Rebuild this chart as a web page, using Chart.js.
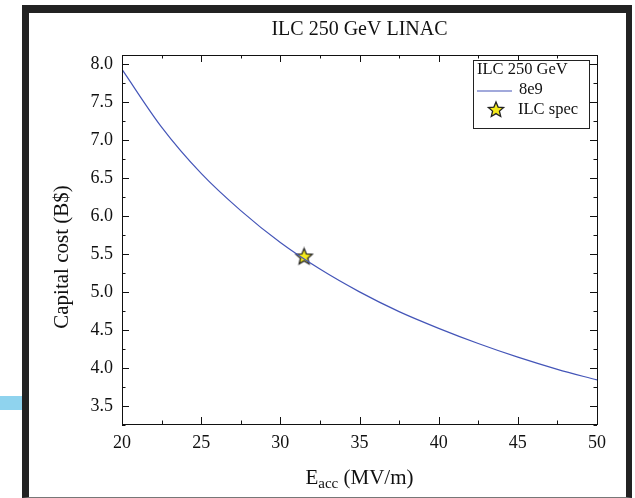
<!DOCTYPE html>
<html>
<head>
<meta charset="utf-8">
<script src="https://cdn.jsdelivr.net/npm/chart.js@4"></script>
<style>
  html, body { margin: 0; padding: 0; background: #fff; }
  body { width: 635px; height: 498px; position: relative; overflow: hidden; }
  #frame {
    position: absolute; left: 22px; top: 5px; width: 597px; height: 484px;
    border-left: 7px solid #222; border-top: 8px solid #222;
    border-right: 6px solid #222; border-bottom: 1px solid #777;
    background: #fff;
  }
  #blueBar { position: absolute; left: 0; top: 396px; width: 22px; height: 14px; background: #8fd3ee; }
  #wrap { position: absolute; left: 0; top: 0; width: 597px; height: 484px; }
</style>
</head>
<body>
<div id="blueBar"></div>
<div id="frame">
  <div id="wrap"><canvas id="costChart" width="597" height="484"></canvas></div>
</div>
<script>
// accelerating gradient (MV/m) and capital cost (B$)
const energy = [20, 22.5, 25, 27.5, 30, 32.5, 35, 37.5, 40, 42.5, 45, 47.5, 50];
const cost = [7.93, 7.17, 6.56, 6.07, 5.65, 5.30, 5.00, 4.74, 4.52, 4.32, 4.14, 3.98, 3.84];
const specEnergy = [31.5];
const specCost = [5.46];
const xTicks = [20, 25, 30, 35, 40, 45, 50];
const yTicks = [3.5, 4.0, 4.5, 5.0, 5.5, 6.0, 6.5, 7.0, 7.5, 8.0];

const serif = "'Liberation Serif', 'Times New Roman', serif";
const lineColor = '#4455b8';

function makeStar(r) {
    const c = document.createElement('canvas');
    const s = Math.ceil(r * 2 + 4);
    c.width = s; c.height = s;
    const g = c.getContext('2d');
    g.beginPath();
    for (let i = 0; i < 10; i++) {
        const rad = i % 2 === 0 ? r : r * 0.45;
        const a = -Math.PI / 2 + i * Math.PI / 5;
        const px = s / 2 + rad * Math.cos(a), py = s / 2 + rad * Math.sin(a);
        if (i === 0) g.moveTo(px, py); else g.lineTo(px, py);
    }
    g.closePath();
    g.fillStyle = '#f4ea1c';
    g.fill();
    g.lineWidth = 1.3;
    g.strokeStyle = '#222';
    g.stroke();
    return c;
}
const starImg = makeStar(8.5);
const legendStar = makeStar(8);

const decorations = {
    id: 'decorations',
    afterDraw(chart) {
        const ctx = chart.ctx;
        const a = chart.chartArea;
        const x = chart.scales.x, y = chart.scales.y;
        ctx.save();
        ctx.strokeStyle = '#111';
        ctx.lineWidth = 1;
        ctx.strokeRect(a.left + 0.5, a.top + 0.5, a.right - a.left, a.bottom - a.top);

        // inward ticks on all four sides
        ctx.beginPath();
        const xs = [];
        xTicks.forEach((v, i) => {
            xs.push([v, 7]);
            if (i < xTicks.length - 1) xs.push([(v + xTicks[i + 1]) / 2, 3.5]);
        });
        xs.forEach(([v, len]) => {
            const p = Math.round(x.getPixelForValue(v)) + 0.5;
            ctx.moveTo(p, a.bottom); ctx.lineTo(p, a.bottom - len);
            ctx.moveTo(p, a.top); ctx.lineTo(p, a.top + len);
        });
        const ys = [];
        yTicks.forEach((v, i) => {
            ys.push([v, 7]);
            if (i < yTicks.length - 1) ys.push([(v + yTicks[i + 1]) / 2, 3.5]);
        });
        ys.push([yTicks[0] - 0.25, 3.5]);
        ys.forEach(([v, len]) => {
            const p = Math.round(y.getPixelForValue(v)) + 0.5;
            ctx.moveTo(a.left, p); ctx.lineTo(a.left + len, p);
            ctx.moveTo(a.right, p); ctx.lineTo(a.right - len, p);
        });
        ctx.stroke();

        // title
        const cx = (a.left + a.right) / 2;
        ctx.fillStyle = '#111';
        ctx.textAlign = 'center';
        ctx.textBaseline = 'middle';
        ctx.font = '20px ' + serif;
        ctx.fillText('ILC 250 GeV LINAC', cx, 17);

        // y axis title
        ctx.save();
        ctx.translate(33, 244);
        ctx.rotate(-Math.PI / 2);
        ctx.font = '21px ' + serif;
        ctx.fillText('Capital cost (B$)', 0, 0);
        ctx.restore();

        // x axis title with subscript
        const main = 'E';
        const rest = ' (MV/m)';
        ctx.font = '21px ' + serif;
        const wMain = ctx.measureText(main).width;
        const wRest = ctx.measureText(rest).width;
        ctx.font = '15px ' + serif;
        const wSub = ctx.measureText('acc').width;
        let sx = cx - (wMain + wSub + wRest) / 2;
        ctx.textAlign = 'left';
        ctx.textBaseline = 'alphabetic';
        ctx.font = '21px ' + serif;
        ctx.fillText(main, sx, 471);
        ctx.font = '15px ' + serif;
        ctx.fillText('acc', sx + wMain, 475);
        ctx.font = '21px ' + serif;
        ctx.fillText(rest, sx + wMain + wSub, 471);

        // legend box
        const lx = 444, ly = 47, lw = 116, lh = 68;
        ctx.fillStyle = '#fff';
        ctx.fillRect(lx, ly, lw, lh);
        ctx.strokeStyle = '#222';
        ctx.strokeRect(lx + 0.5, ly + 0.5, lw, lh);
        ctx.fillStyle = '#111';
        ctx.font = '16.5px ' + serif;
        ctx.textBaseline = 'middle';
        ctx.fillText('ILC 250 GeV', lx + 4, ly + 10);
        ctx.strokeStyle = lineColor;
        ctx.lineWidth = 1.2;
        ctx.beginPath();
        ctx.moveTo(lx + 4, ly + 31); ctx.lineTo(lx + 39, ly + 31);
        ctx.stroke();
        ctx.fillText(chart.data.datasets[0].label, lx + 46, ly + 30);
        ctx.drawImage(legendStar, lx + 23 - legendStar.width / 2, ly + 50 - legendStar.height / 2);
        ctx.fillText(chart.data.datasets[1].label, lx + 45, ly + 50);
        ctx.restore();
    }
};

new Chart(document.getElementById('costChart'), {
    type: 'line',
    data: {
        datasets: [{
            label: '8e9',
            data: energy.map((e, i) => ({ x: e, y: cost[i] })),
            borderColor: lineColor,
            borderWidth: 1.2,
            pointRadius: 0,
            fill: false,
            cubicInterpolationMode: 'monotone'
        }, {
            label: 'ILC spec',
            data: specEnergy.map((e, i) => ({ x: e, y: specCost[i] })),
            showLine: false,
            pointStyle: starImg,
            pointRadius: 9
        }]
    },
    options: {
        responsive: false,
        animation: false,
        layout: { padding: { top: 42, right: 29, left: 0, bottom: 0 } },
        plugins: { legend: { display: false }, tooltip: { enabled: false } },
        scales: {
            x: {
                type: 'linear',
                min: 20,
                max: 50,
                afterBuildTicks: s => { s.ticks = xTicks.map(v => ({ value: v })); },
                afterFit: s => { s.height = 73; },
                grid: { display: false, drawTicks: false },
                border: { display: false },
                ticks: { padding: 8, color: '#111', font: { family: serif, size: 18 }, maxRotation: 0 }
            },
            y: {
                min: 3.26,
                max: 8.12,
                afterBuildTicks: s => { s.ticks = yTicks.map(v => ({ value: v })); },
                afterFit: s => { s.width = 93; },
                grid: { display: false, drawTicks: false },
                border: { display: false },
                ticks: { padding: 9, color: '#111', font: { family: serif, size: 18 },
                    callback: v => v.toFixed(1) }
            }
        }
    },
    plugins: [decorations]
});
</script>
</body>
</html>
